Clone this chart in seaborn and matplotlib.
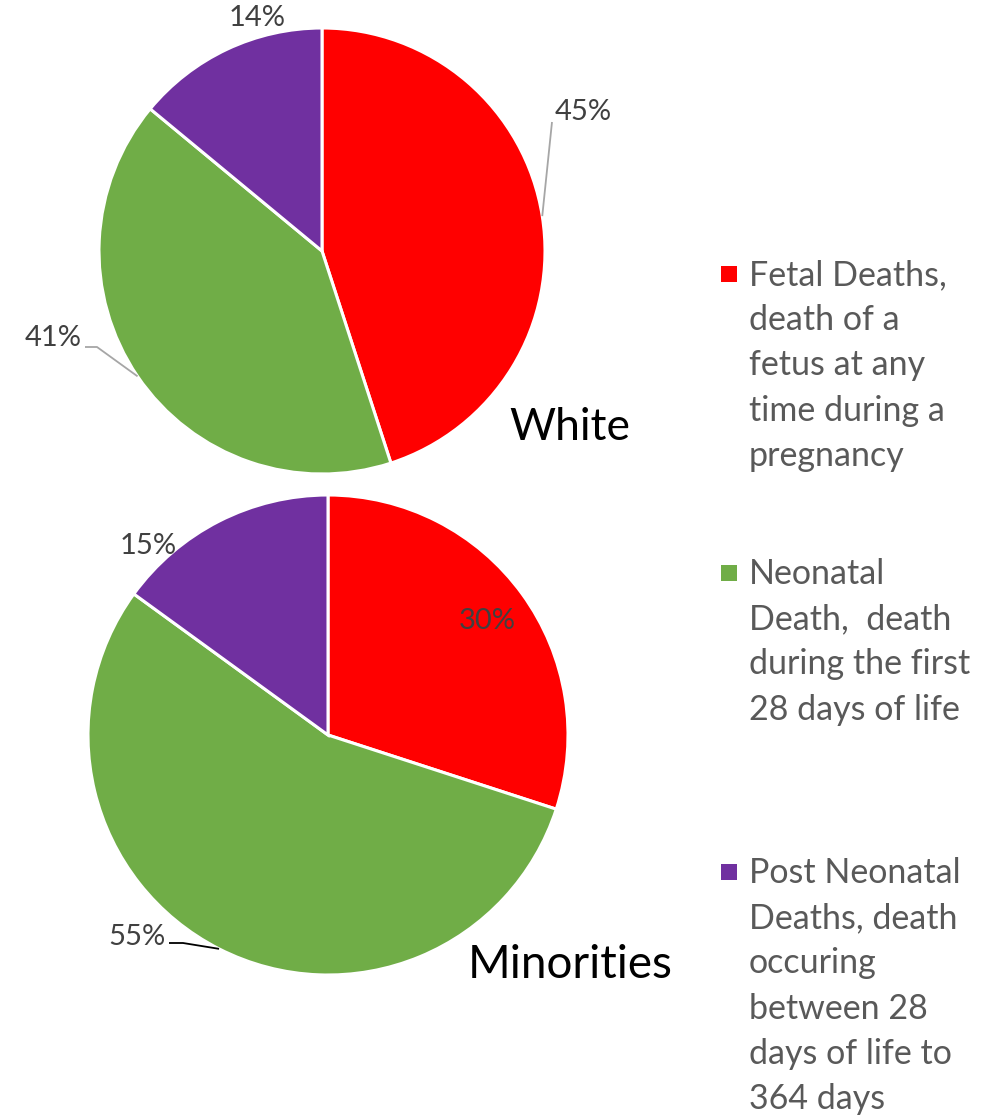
import numpy as np
import matplotlib
matplotlib.use("Agg")
import matplotlib.pyplot as plt
import seaborn as sns

# ---- data ----
categories = ["Fetal Deaths, death of a fetus at any time during a pregnancy",
              "Neonatal Death,  death during the first 28 days of life",
              "Post Neonatal Deaths, death occuring between 28 days of life to 364 days"]
white_values = [45, 41, 14]
minority_values = [30, 55, 15]
white_labels = ["45%", "41%", "14%"]
minority_labels = ["30%", "55%", "15%"]
legend_lines = [["Fetal Deaths,", "death of a", "fetus at any", "time during a", "pregnancy"],
                ["Neonatal", "Death,  death", "during the first", "28 days of life"],
                ["Post Neonatal", "Deaths, death", "occuring", "between 28", "days of life to", "364 days"]]
colors = ["#FF0000", "#70AD47", "#7030A0"]

sns.set_theme(style="white")
plt.rcParams['font.family'] = ['Lato', 'DejaVu Sans']

W, H = 981, 1115
fig = plt.figure(figsize=(W / 100, H / 100), dpi=100)
ax = fig.add_axes([0, 0, 1, 1])
Y = lambda y: H - y

def draw_pie(values, labels, center, radius, label_pos, leaders):
    wedges, _ = ax.pie(values, colors=colors, startangle=90, counterclock=False,
                       center=(center[0], Y(center[1])), radius=radius,
                       wedgeprops=dict(edgecolor="white", linewidth=2.2))
    for i, (w, lab) in enumerate(zip(wedges, labels)):
        lx, ly = label_pos[i]
        ax.text(lx, Y(ly), lab, fontsize=21, color="#404040", ha="center", va="center")
        if leaders[i] is not None:
            mid = np.deg2rad((w.theta1 + w.theta2) / 2)
            ex = center[0] + radius * np.cos(mid)
            ey = Y(center[1]) + radius * np.sin(mid)
            pts, lc = leaders[i]
            xs = [p[0] for p in pts] + [ex]
            ys = [Y(p[1]) for p in pts] + [ey]
            ax.plot(xs, ys, color=lc, lw=1.3, solid_capstyle="butt")
    return wedges

draw_pie(white_values, white_labels, (322, 251), 223,
         [(583, 112), (53, 338), (257, 18)],
         [([(552, 122)], "#A6A6A6"), ([(85, 347), (97, 347)], "#A6A6A6"), None])
draw_pie(minority_values, minority_labels, (328, 735), 240,
         [(487, 621), (137, 937), (148, 546)],
         [None, ([(169, 943), (183, 943)], "#000000"), None])

ax.text(509, Y(440), "White", fontsize=32, color="black", ha="left", va="baseline")
ax.text(468, Y(978), "Minorities", fontsize=33, color="black", ha="left", va="baseline")

# legend
starts = [285, 584, 883]
spacing = 45.2
for c, lines, y0 in zip(colors, legend_lines, starts):
    ax.scatter([729], [Y(273.5 + (y0 - 285))], marker="s", s=118, color=c, linewidths=0)
    for k, t in enumerate(lines):
        ax.text(749, Y(y0 + k * spacing), t, fontsize=24.5, color="#595959",
                ha="left", va="baseline")

ax.set_xlim(0, W)
ax.set_ylim(0, H)
ax.set_aspect("equal")
ax.axis("off")
fig.savefig("out.png", dpi=100)
